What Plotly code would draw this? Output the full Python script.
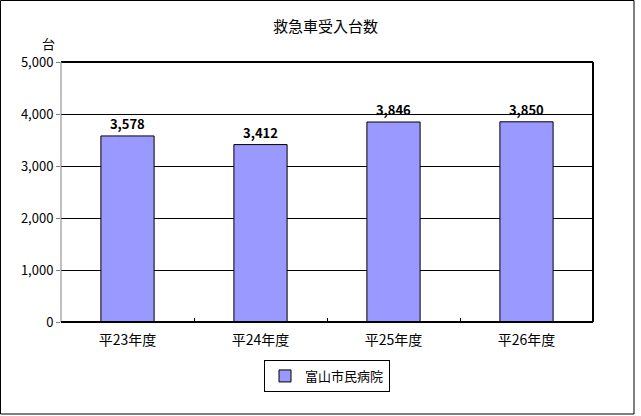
import plotly.graph_objects as go

categories = ["平23年度", "平24年度", "平25年度", "平26年度"]
values = [3578, 3412, 3846, 3850]
series_name = "富山市民病院"
title_text = "救急車受入台数"
unit_text = "台"
y_ticks = [0, 1000, 2000, 3000, 4000, 5000]

W, H = 641, 416
L, R, T, B = 61, 593, 62, 322
pw, ph = R - L, B - T

def px(x):
    return (x - L) / pw

def py(y):
    return (B - y) / ph

font = "Noto Sans CJK JP, sans-serif"

fig = go.Figure()
fig.add_trace(go.Bar(
    x=categories, y=values, name=series_name,
    marker=dict(color="#9999FF", line=dict(color="black", width=1)),
    text=[f"<b>{v:,}</b>" for v in values],
    textposition="outside", cliponaxis=False,
    textfont=dict(size=13, color="black", family=font),
    showlegend=True,
))

fig.update_layout(
    width=W, height=H,
    margin=dict(l=L, r=W - R, t=T, b=H - B, pad=0),
    paper_bgcolor="white", plot_bgcolor="white",
    font=dict(family=font, size=12, color="black"),
    bargap=0.6,
    showlegend=True,
    legend=dict(x=0.5, y=py(376), xanchor="center", yanchor="middle",
                orientation="h", bordercolor="black", borderwidth=1,
                font=dict(size=13, family=font), itemwidth=30,
                tracegroupgap=0),
    xaxis=dict(showgrid=False, showline=False, ticks="inside", tickson="boundaries",
               ticklen=4, tickcolor="black", tickfont=dict(size=14), zeroline=False,
               ticklabelstandoff=8),
    yaxis=dict(range=[0, 5000], tickvals=y_ticks, tickformat=",",
               showgrid=True, gridcolor="black", gridwidth=1,
               showline=False, ticks="outside", ticklen=4, tickcolor="#808080",
               tickfont=dict(size=13), zeroline=False),
)

shapes = [
    dict(type="line", xref="paper", yref="paper", x0=0, x1=1, y0=1, y1=1, line=dict(color="black", width=2)),
    dict(type="line", xref="paper", yref="paper", x0=1, x1=1, y0=0, y1=1, line=dict(color="black", width=2)),
    dict(type="line", xref="paper", yref="paper", x0=0, x1=0, y0=0, y1=1, line=dict(color="#808080", width=1)),
    dict(type="line", xref="paper", yref="paper", x0=0, x1=1, y0=0, y1=0, line=dict(color="black", width=2)),
    dict(type="rect", xref="paper", yref="paper", x0=px(0.5), x1=px(634), y0=py(414), y1=py(0.5),
         line=dict(color="black", width=1), layer="below"),
]
fig.update_layout(shapes=shapes)

fig.add_annotation(text=title_text, xref="paper", yref="paper", x=px(325), y=py(25),
                   showarrow=False, font=dict(size=15), xanchor="center", yanchor="middle")
fig.add_annotation(text=unit_text, xref="paper", yref="paper", x=px(48), y=py(43),
                   showarrow=False, font=dict(size=13), xanchor="center", yanchor="middle")

fig.write_html("out.html", config={"displayModeBar": False},
               post_script="document.body.style.margin='0';")
